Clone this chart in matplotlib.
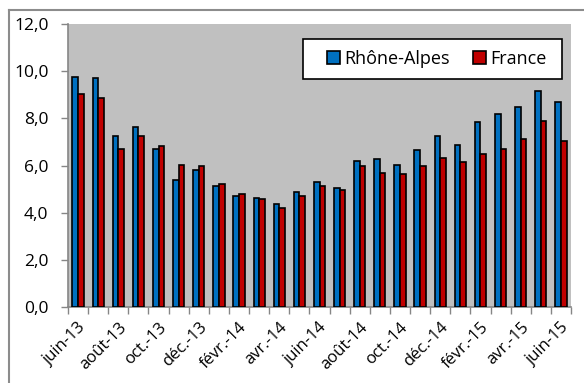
import matplotlib
matplotlib.use("Agg")
import matplotlib.pyplot as plt
from matplotlib.patches import Rectangle
from matplotlib.lines import Line2D
import numpy as np

months = ["juin-13", "juil.-13", "août-13", "sept.-13", "oct.-13", "nov.-13", "déc.-13",
          "janv.-14", "févr.-14", "mars-14", "avr.-14", "mai-14", "juin-14", "juil.-14",
          "août-14", "sept.-14", "oct.-14", "nov.-14", "déc.-14", "janv.-15", "févr.-15",
          "mars-15", "avr.-15", "mai-15", "juin-15"]
rhone_alpes = [9.76, 9.72, 7.26, 7.63, 6.69, 5.39, 5.79, 5.11, 4.69, 4.62, 4.38, 4.86, 5.32,
               5.04, 6.21, 6.27, 6.04, 6.67, 7.27, 6.88, 7.84, 8.18, 8.50, 9.18, 8.70]
france = [9.05, 8.87, 6.72, 7.26, 6.81, 6.02, 5.99, 5.22, 4.80, 4.58, 4.18, 4.72, 5.11,
          4.94, 5.99, 5.68, 5.66, 5.99, 6.33, 6.13, 6.47, 6.72, 7.12, 7.88, 7.05]
yticks = [0, 2, 4, 6, 8, 10, 12]

plt.rcParams["font.family"] = ["Open Sans", "DejaVu Sans"]

W, H = 584, 383


def fx(px):
    return px / W


def fy(py):
    return 1 - py / H


fig = plt.figure(figsize=(W / 100, H / 100), dpi=100)
ax = fig.add_axes([fx(68), fy(307), fx(571 - 68), (307 - 24) / H])

# outer frame lines (top and left edges of the chart area)
frame_kw = dict(transform=fig.transFigure, color="#8c8c8c", linewidth=1.5)
fig.add_artist(Line2D([fx(9), fx(584)], [fy(10), fy(10)], **frame_kw))
fig.add_artist(Line2D([fx(9), fx(9)], [fy(10), fy(383)], **frame_kw))

x = np.arange(len(months))
w = 0.28
ax.bar(x - w / 2, rhone_alpes, width=w, color="#0070C0", edgecolor="black",
       linewidth=1.2, label="Rhône-Alpes", zorder=3)
ax.bar(x + w / 2, france, width=w, color="#C00000", edgecolor="black",
       linewidth=1.2, label="France", zorder=3)

ax.set_facecolor("#C0C0C0")
ax.set_xlim(-0.5, len(months) - 0.5)
ax.set_ylim(0, 12)
ax.set_yticks(yticks)
ax.set_yticklabels([f"{v:.1f}".replace(".", ",") for v in yticks], fontsize=12.5)

ax.set_xticks(x[::2])
ax.set_xticks(np.arange(len(months) + 1) - 0.5, minor=True)
ax.set_xticklabels(months[::2], rotation=45, ha="right", rotation_mode="anchor",
                   fontsize=12)
ax.tick_params(axis="x", which="major", length=0, pad=9)
ax.tick_params(axis="x", which="minor", length=5, color="#868686", width=1)
ax.tick_params(axis="y", length=5, color="#868686", width=1, pad=9)

for side in ["top", "right"]:
    ax.spines[side].set_visible(False)
for side in ["left", "bottom"]:
    ax.spines[side].set_color("#868686")
    ax.spines[side].set_linewidth(1.2)

# legend box
fig.add_artist(Rectangle((fx(303), fy(79)), fx(562 - 303), (79 - 39) / H,
                         transform=fig.transFigure, facecolor="white",
                         edgecolor="black", linewidth=1.2, zorder=5))
leg = fig.legend(loc="center", bbox_to_anchor=(fx(437), fy(59)), ncol=2,
                 fontsize=13, frameon=False, handlelength=0.7,
                 handleheight=0.7, handletextpad=0.25, columnspacing=1.3,
                 borderpad=0.0)
leg.set_zorder(6)

fig.savefig("out.png", dpi=100)
